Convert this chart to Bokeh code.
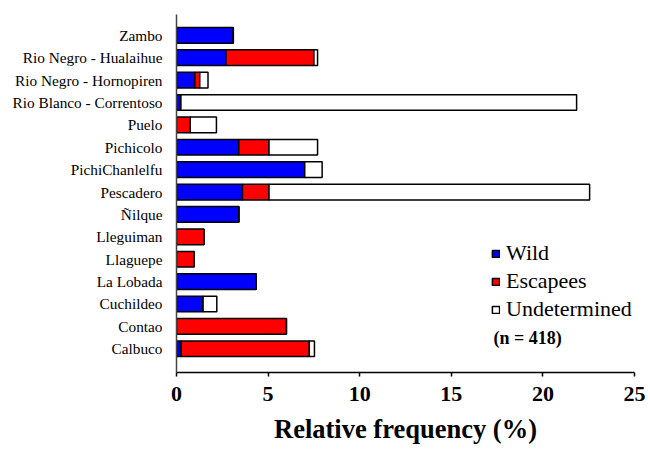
from bokeh.plotting import figure
from bokeh.models import ColumnDataSource, Range1d, FixedTicker, Legend, LegendItem, Label
from bokeh.embed import file_html
from bokeh.resources import INLINE

# ---- data (top to bottom as shown) ----
sites = ["Zambo", "Rio Negro - Hualaihue", "Rio Negro - Hornopiren", "Rio Blanco - Correntoso",
         "Puelo", "Pichicolo", "PichiChanlelfu", "Pescadero", "Ñilque", "Lleguiman",
         "Llaguepe", "La Lobada", "Cuchildeo", "Contao", "Calbuco"]
wild = [3.1, 2.7, 1.0, 0.24, 0.0, 3.4, 7.0, 3.6, 3.4, 0.0, 0.0, 4.35, 1.45, 0.0, 0.25]
escapees = [0.0, 4.8, 0.27, 0.0, 0.75, 1.65, 0.0, 1.45, 0.0, 1.5, 0.97, 0.0, 0.0, 6.0, 7.0]
undetermined = [0.0, 0.2, 0.45, 21.6, 1.43, 2.65, 0.95, 17.5, 0.0, 0.0, 0.0, 0.0, 0.75, 0.0, 0.28]
series = ["Wild", "Escapees", "Undetermined"]
colors = ["#0000FF", "#FF0000", "#FFFFFF"]
x_ticks = [0, 5, 10, 15, 20, 25]
x_title = "Relative frequency (%)"
n_note = "(n = 418)"

n = len(sites)
ypos = [n - 1 - i for i in range(n)]
source = ColumnDataSource(dict(y=ypos, site=sites, Wild=wild, Escapees=escapees, Undetermined=undetermined))

FONT = "Times New Roman"

p = figure(width=648, height=446, output_backend="svg", toolbar_location=None,
           x_range=Range1d(0, 25), y_range=Range1d(-1.06, n - 1 + 0.93),
           min_border_left=176, min_border_right=14, min_border_top=14, min_border_bottom=71)

rs = p.hbar_stack(series, y="y", height=0.7, color=colors, line_color="black",
                  line_width=1.5, source=source)

p.xgrid.visible = False
p.ygrid.visible = False
p.outline_line_color = None

# x axis
p.xaxis.ticker = FixedTicker(ticks=x_ticks)
p.xaxis.major_label_text_font = FONT
p.xaxis.major_label_text_font_style = "bold"
p.xaxis.major_label_text_font_size = "22px"
p.xaxis.major_label_text_color = "black"
p.xaxis.major_label_standoff = 10
p.xaxis.major_tick_in = 0
p.xaxis.major_tick_out = 4
p.xaxis.minor_tick_line_color = None
p.xaxis.axis_line_width = 1.5
p.xaxis.axis_line_color = "black"
p.xaxis.major_tick_line_width = 1.5
p.xaxis.axis_label = x_title
p.xaxis.axis_label_text_font = FONT
p.xaxis.axis_label_text_font_style = "bold"
p.xaxis.axis_label_text_font_size = "26.5px"
p.xaxis.axis_label_text_color = "black"
p.xaxis.axis_label_standoff = 10

# y axis
p.yaxis.ticker = FixedTicker(ticks=ypos)
p.yaxis.major_label_overrides = {y: s for y, s in zip(ypos, sites)}
p.yaxis.major_label_text_font = FONT
p.yaxis.major_label_text_font_size = "15.3px"
p.yaxis.major_label_text_color = "black"
p.yaxis.major_label_standoff = 8
p.yaxis.major_tick_line_color = None
p.yaxis.minor_tick_line_color = None
p.yaxis.axis_line_width = 1.5
p.yaxis.axis_line_color = "#444444"

legend = Legend(items=[LegendItem(label=s, renderers=[r]) for s, r in zip(series, rs)],
                location=(315, 49))
legend.glyph_width = 9
legend.glyph_height = 9
legend.label_height = 28
legend.label_standoff = 6
legend.spacing = 0
legend.padding = 0
legend.margin = 0
legend.border_line_color = None
legend.background_fill_alpha = 0
legend.label_text_font = FONT
legend.label_text_font_size = "22px"
legend.label_text_color = "black"
p.add_layout(legend, "center")

p.add_layout(Label(x=17.3, y=0.5, text=n_note, text_font=FONT, text_font_style="bold",
                   text_font_size="18px", text_baseline="alphabetic", text_color="black"))

open("out.html", "w").write(file_html(p, INLINE))
